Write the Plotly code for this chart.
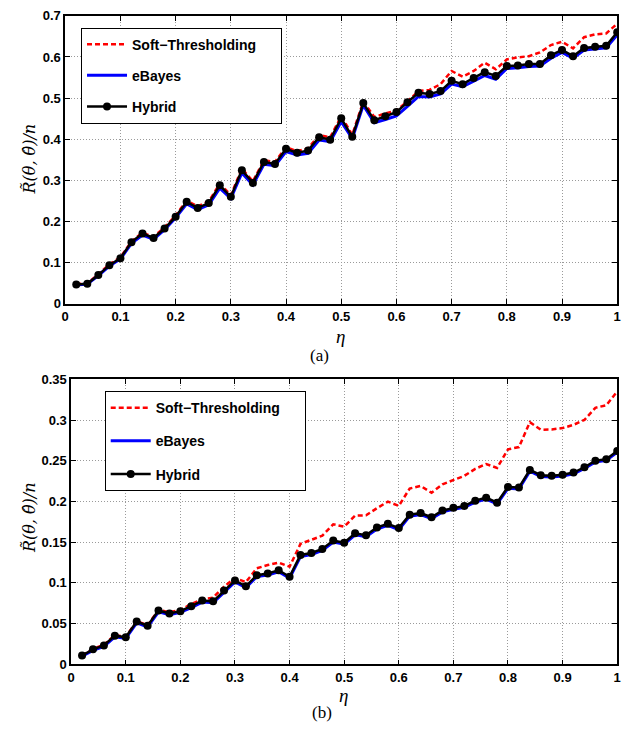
import plotly.graph_objects as go

eta = [round(0.02 * i, 2) for i in range(1, 51)]

# Panel (a)
a_soft = [0.048, 0.050, 0.072, 0.096, 0.113, 0.152, 0.173, 0.163, 0.186, 0.215,
          0.251, 0.237, 0.249, 0.292, 0.264, 0.329, 0.298, 0.349, 0.345, 0.381,
          0.371, 0.378, 0.410, 0.405, 0.456, 0.411, 0.492, 0.454, 0.463, 0.470,
          0.492, 0.517, 0.520, 0.534, 0.566, 0.552, 0.566, 0.586, 0.570, 0.594,
          0.599, 0.602, 0.611, 0.629, 0.637, 0.621, 0.648, 0.655, 0.657, 0.681]
a_ebayes = [0.046, 0.048, 0.069, 0.092, 0.109, 0.147, 0.167, 0.157, 0.180, 0.209,
            0.243, 0.229, 0.241, 0.281, 0.256, 0.318, 0.289, 0.339, 0.336, 0.370,
            0.362, 0.366, 0.398, 0.394, 0.443, 0.402, 0.483, 0.440, 0.448, 0.457,
            0.480, 0.504, 0.503, 0.510, 0.534, 0.528, 0.541, 0.555, 0.546, 0.572,
            0.574, 0.577, 0.578, 0.597, 0.611, 0.597, 0.617, 0.620, 0.622, 0.654]
a_hybrid = [0.047, 0.049, 0.070, 0.094, 0.111, 0.150, 0.171, 0.160, 0.183, 0.212,
            0.248, 0.233, 0.245, 0.288, 0.260, 0.325, 0.294, 0.345, 0.340, 0.377,
            0.367, 0.373, 0.405, 0.399, 0.451, 0.406, 0.488, 0.446, 0.456, 0.466,
            0.490, 0.513, 0.510, 0.517, 0.542, 0.534, 0.549, 0.563, 0.554, 0.578,
            0.579, 0.583, 0.583, 0.604, 0.617, 0.602, 0.622, 0.625, 0.627, 0.660]

# Panel (b)
b_soft = [0.011, 0.019, 0.024, 0.036, 0.034, 0.053, 0.048, 0.067, 0.064, 0.067,
          0.074, 0.080, 0.082, 0.0955, 0.106, 0.101, 0.118, 0.122, 0.125, 0.120,
          0.148, 0.153, 0.158, 0.172, 0.169, 0.1826, 0.183, 0.1918, 0.1998, 0.1946,
          0.2159, 0.2191, 0.2107, 0.2211, 0.2259, 0.2315, 0.2400, 0.2460, 0.2412, 0.2640,
          0.2668, 0.2973, 0.2881, 0.2885, 0.2901, 0.2941, 0.3002, 0.3150, 0.3182, 0.3351]
b_ebayes = [0.0100, 0.0172, 0.0220, 0.0338, 0.0318, 0.0510, 0.0460, 0.0645, 0.0610, 0.0638,
            0.0698, 0.0765, 0.0758, 0.0890, 0.1012, 0.0942, 0.1078, 0.1098, 0.1138, 0.1058,
            0.1325, 0.1350, 0.1398, 0.1502, 0.1475, 0.1590, 0.1568, 0.1662, 0.1708, 0.1655,
            0.1820, 0.1840, 0.1790, 0.1872, 0.1905, 0.1928, 0.1992, 0.2030, 0.1970, 0.2162,
            0.2155, 0.2372, 0.2308, 0.2300, 0.2312, 0.2340, 0.2405, 0.2485, 0.2505, 0.2605]
b_hybrid = [0.0108, 0.0185, 0.0233, 0.0353, 0.0333, 0.0526, 0.0474, 0.0662, 0.0626, 0.0654,
            0.0714, 0.0783, 0.0774, 0.0907, 0.1031, 0.0959, 0.1095, 0.1116, 0.1156, 0.1075,
            0.1344, 0.1368, 0.1417, 0.1521, 0.1493, 0.1609, 0.1585, 0.1681, 0.1726, 0.1673,
            0.1838, 0.1858, 0.1806, 0.1890, 0.1922, 0.1946, 0.2010, 0.2047, 0.1986, 0.2179,
            0.2171, 0.2388, 0.2323, 0.2315, 0.2327, 0.2355, 0.2420, 0.2500, 0.2520, 0.2620]

x_ticks = [0, 0.1, 0.2, 0.3, 0.4, 0.5, 0.6, 0.7, 0.8, 0.9, 1]
x_ticktext = ["0", "0.1", "0.2", "0.3", "0.4", "0.5", "0.6", "0.7", "0.8", "0.9", "1"]
a_yticks = [0, 0.1, 0.2, 0.3, 0.4, 0.5, 0.6, 0.7]
a_yticktext = ["0", "0.1", "0.2", "0.3", "0.4", "0.5", "0.6", "0.7"]
b_yticks = [0, 0.05, 0.1, 0.15, 0.2, 0.25, 0.3, 0.35]
b_yticktext = ["0", "0.05", "0.1", "0.15", "0.2", "0.25", "0.3", "0.35"]

names = ["Soft\u2212Thresholding\u00a0\u00a0\u00a0\u00a0\u00a0", "eBayes", "Hybrid"]

W, H = 638, 740
fig = go.Figure()


def add_panel(xa, ya, leg, soft, eb, hy):
    fig.add_trace(go.Scatter(x=eta, y=soft, name=names[0], mode="lines",
                             line=dict(color="#ff0000", width=2.5, dash="5px,3px"),
                             xaxis=xa, yaxis=ya, legend=leg, legendgroup=leg + "s"))
    fig.add_trace(go.Scatter(x=eta, y=eb, name=names[1], mode="lines",
                             line=dict(color="#0000ff", width=3),
                             xaxis=xa, yaxis=ya, legend=leg, legendgroup=leg + "e"))
    fig.add_trace(go.Scatter(x=eta, y=hy, name=names[2], mode="lines+markers",
                             line=dict(color="#000000", width=2.5),
                             marker=dict(color="#000000", size=8, symbol="circle"),
                             xaxis=xa, yaxis=ya, legend=leg, legendgroup=leg + "h"))


add_panel("x", "y", "legend", a_soft, a_ebayes, a_hybrid)
add_panel("x2", "y2", "legend2", b_soft, b_ebayes, b_hybrid)

tickfont = dict(family="Liberation Sans", size=13, color="black", weight="bold")
common = dict(showline=True, linecolor="black", linewidth=1.5, mirror="allticks",
              ticks="inside", ticklen=5, tickcolor="black", showgrid=True,
              gridcolor="#9a9a9a", griddash="1px,2px", gridwidth=1, zeroline=False,
              tickfont=tickfont)

legstyle = dict(bgcolor="white", bordercolor="black", borderwidth=1,
                font=dict(family="Liberation Sans", size=14, color="black", weight="bold"),
                xanchor="left", yanchor="top", itemwidth=40, traceorder="grouped")

fig.update_layout(
    width=W, height=H, autosize=False,
    margin=dict(l=0, r=0, t=0, b=0),
    paper_bgcolor="white", plot_bgcolor="white", showlegend=True,
    xaxis=dict(domain=[62 / W, 621 / W], range=[0, 1], tickvals=x_ticks,
               ticktext=x_ticktext, anchor="y", **common),
    yaxis=dict(domain=[1 - 303 / H, 1 - 9 / H], range=[0, 0.7], tickvals=a_yticks,
               ticktext=a_yticktext, anchor="x", **common),
    xaxis2=dict(domain=[68 / W, 621 / W], range=[0, 1], tickvals=x_ticks,
                ticktext=x_ticktext, anchor="y2", **common),
    yaxis2=dict(domain=[1 - 671 / H, 1 - 380 / H], range=[0, 0.35], tickvals=b_yticks,
                ticktext=b_yticktext, anchor="x2", **common),
    legend=dict(x=78 / W, y=1 - 21 / H, tracegroupgap=10, **legstyle),
    legend2=dict(x=102 / W, y=1 - 392 / H, tracegroupgap=12, **legstyle),
)

ylab_font = dict(family="DejaVu Serif", size=16, color="black", style="italic")
eta_font = dict(family="Liberation Serif", size=19, color="black", style="italic")
ann = [
    dict(text="R\u0303(\u03b8, \u03b8\u0302)/n", x=26 / W, y=1 - 155 / H, textangle=-90, font=ylab_font),
    dict(text="R\u0303(\u03b8, \u03b8\u0302)/n", x=26 / W, y=1 - 521 / H, textangle=-90, font=ylab_font),
    dict(text="\u03b7", x=341 / W, y=1 - 336 / H, font=eta_font),
    dict(text="\u03b7", x=344 / W, y=1 - 703 / H, font=eta_font),
    dict(text="(a)", x=319 / W, y=1 - 356 / H, font=dict(family="Liberation Serif", size=17, color="black")),
    dict(text="(b)", x=322 / W, y=1 - 720 / H, font=dict(family="Liberation Serif", size=17, color="black")),
]
for a in ann:
    fig.add_annotation(xref="paper", yref="paper", showarrow=False,
                       xanchor="center", yanchor="middle", **a)

fig.write_html("out.html", config={"displayModeBar": False},
               post_script="document.body.style.margin='0';")
